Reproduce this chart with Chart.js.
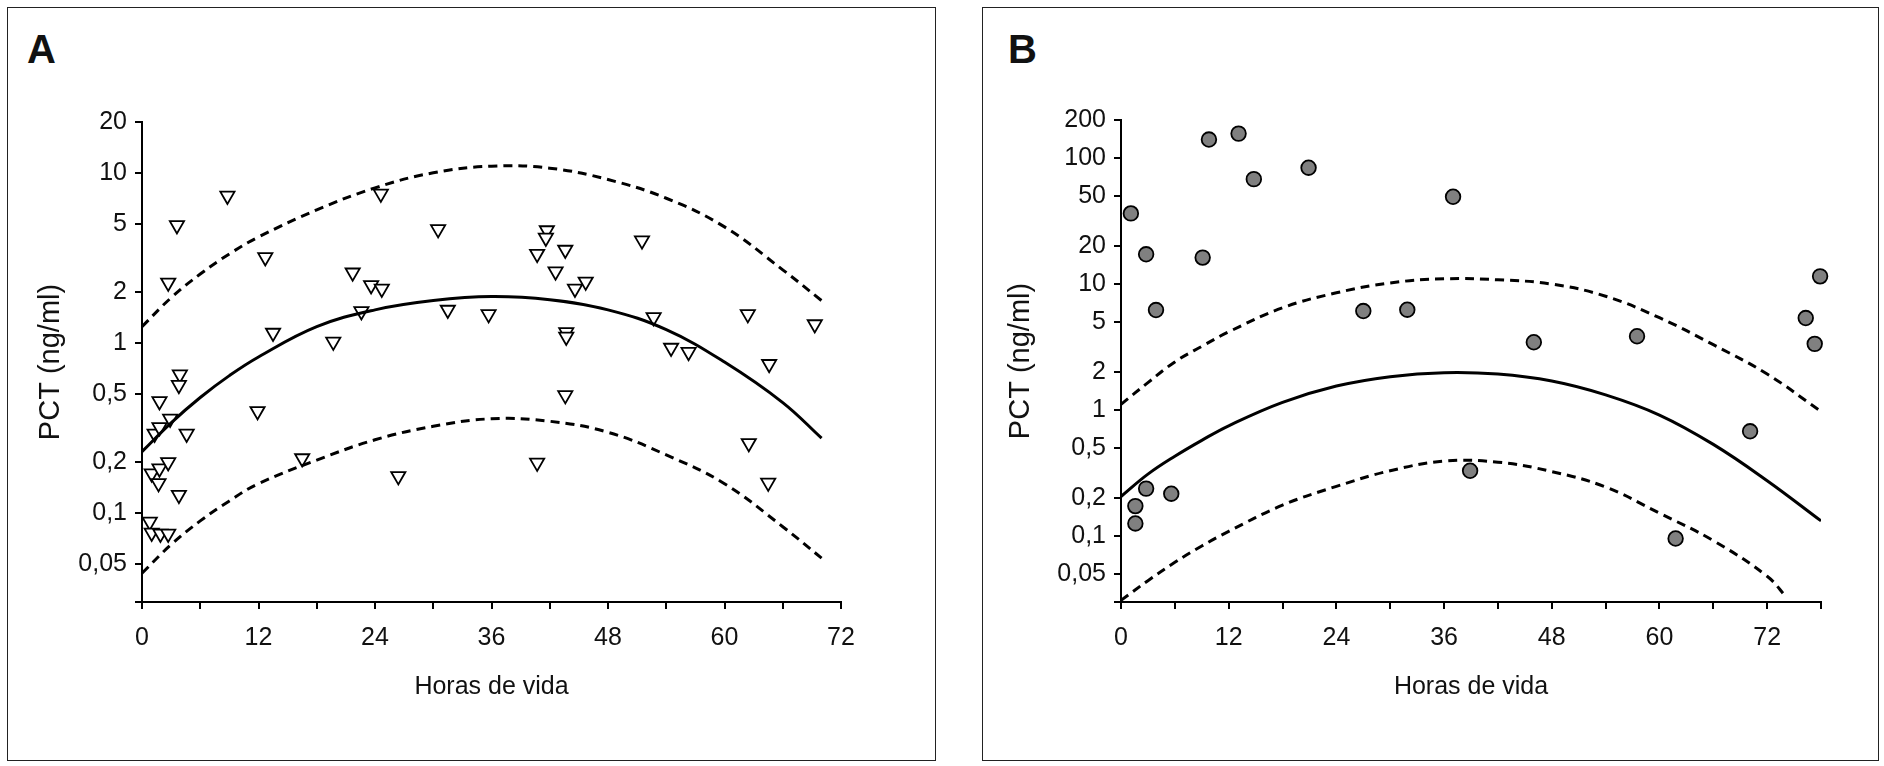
<!DOCTYPE html>
<html>
<head>
<meta charset="utf-8">
<script src="https://cdn.jsdelivr.net/npm/chart.js@4"></script>
<style>
  body { margin: 0; background: #fff; width: 1884px; height: 766px; position: relative; overflow: hidden; }
  .marco { position: absolute; border: 1.5px solid #222; box-sizing: border-box; }
  .letra { position: absolute; font: bold 40px "Liberation Sans", Arial, sans-serif; color: #111; }
  canvas { position: absolute; }
</style>
</head>
<body>
<div class="marco" style="left:7px;top:7px;width:929px;height:754px"></div>
<div class="marco" style="left:982px;top:7px;width:897px;height:754px"></div>
<div class="letra" style="left:27px;top:27px">A</div>
<div class="letra" style="left:1008px;top:27px">B</div>
<canvas id="chartA" width="926" height="751" style="left:8px;top:8px"></canvas>
<canvas id="chartB" width="894" height="751" style="left:983px;top:8px"></canvas>
<script>
// Panel A - triangulos
let horasA = [8.8, 3.6, 2.7, 12.7, 13.5, 3.9, 3.8, 1.8, 1.3, 1.8, 2.9, 4.6, 11.9, 19.7, 21.7, 22.6, 23.6, 24.7, 24.6, 30.5, 31.5, 35.7,
  16.5, 26.4, 1.0, 1.8, 2.7, 1.7, 3.8, 0.8, 1.0, 1.9, 2.7,
  41.7, 41.6, 40.7, 43.6, 42.6, 44.6, 45.7, 43.7, 43.7, 43.6, 40.7, 51.5, 52.7, 54.5, 56.3, 62.4, 64.6, 69.3, 62.5, 64.5];
let pctA = [7.36, 4.94, 2.27, 3.2, 1.15, 0.654, 0.567, 0.455, 0.293, 0.32, 0.359, 0.293, 0.398, 1.02, 2.6, 1.54, 2.19, 2.09, 7.57, 4.68, 1.57, 1.48,
  0.21, 0.165, 0.171, 0.183, 0.199, 0.15, 0.128, 0.089, 0.0766, 0.0756, 0.0756,
  4.61, 4.17, 3.35, 3.54, 2.64, 2.09, 2.3, 1.16, 1.09, 0.494, 0.198, 4.02, 1.42, 0.938, 0.887, 1.48, 0.753, 1.29, 0.258, 0.151];
let horasCurvaA = [0, 3, 6, 9, 12, 18, 24, 30, 36, 42, 48, 54, 60, 66, 70];
let mediaA = [0.23, 0.34, 0.479, 0.644, 0.829, 1.25, 1.57, 1.78, 1.88, 1.8, 1.57, 1.2, 0.774, 0.447, 0.276];
let superiorA = [1.25, 1.85, 2.55, 3.35, 4.21, 6.08, 8.19, 10.05, 11.0, 10.7, 9.17, 7.12, 4.83, 2.7, 1.78];
let inferiorA = [0.0443, 0.0653, 0.09, 0.118, 0.149, 0.205, 0.27, 0.324, 0.359, 0.347, 0.299, 0.22, 0.149, 0.0832, 0.0544];
let ticksYA = [0.03, 0.05, 0.1, 0.2, 0.5, 1, 2, 5, 10, 20];
let etiquetasYA = ['', '0,05', '0,1', '0,2', '0,5', '1', '2', '5', '10', '20'];

// Panel B - circulos
let horasB = [1.1, 2.8, 3.9, 9.8, 13.1, 14.8, 20.9, 9.1, 27.0, 31.9, 37.0, 38.9, 2.8, 5.6, 1.6, 1.6, 46.0, 57.5, 70.1, 61.8, 76.3, 77.3, 77.9];
let pctB = [36.3, 17.2, 6.21, 140, 156, 67.9, 83.7, 16.2, 6.1, 6.25, 49.2, 0.33, 0.238, 0.217, 0.173, 0.126, 3.45, 3.85, 0.678, 0.0957, 5.37, 3.35, 11.5];
let horasMediaB = [0, 3, 6, 9, 12, 18, 24, 30, 36, 42, 48, 54, 60, 66, 72, 78];
let mediaB = [0.206, 0.31, 0.43, 0.575, 0.75, 1.15, 1.55, 1.84, 1.98, 1.93, 1.7, 1.32, 0.913, 0.534, 0.275, 0.132];
let horasSupB = [0, 3, 6, 9, 12, 18, 24, 30, 36, 42, 48, 54, 60, 66, 72, 77.7];
let superiorB = [1.11, 1.65, 2.41, 3.2, 4.17, 6.48, 8.51, 10.2, 11.0, 10.8, 9.98, 8.0, 5.4, 3.3, 1.93, 1.01];
let horasInfB = [0, 3, 6, 9, 12, 18, 24, 30, 36, 42, 48, 54, 60, 66, 72, 74.2];
let inferiorB = [0.0309, 0.0443, 0.0619, 0.0834, 0.109, 0.176, 0.248, 0.33, 0.393, 0.386, 0.325, 0.245, 0.152, 0.092, 0.048, 0.0324];
let ticksYB = [0.03, 0.05, 0.1, 0.2, 0.5, 1, 2, 5, 10, 20, 50, 100, 200];
let etiquetasYB = ['', '0,05', '0,1', '0,2', '0,5', '1', '2', '5', '10', '20', '50', '100', '200'];

Chart.defaults.font.family = '"Liberation Sans", Arial, sans-serif';
Chart.defaults.color = '#111';

function puntos(xs, ys) {
  return xs.map((x, i) => ({ x: x, y: ys[i] }));
}

function curva(xs, ys, dash) {
  return {
    data: puntos(xs, ys),
    showLine: true,
    pointRadius: 0,
    borderColor: '#000',
    borderWidth: 3,
    borderDash: dash,
    tension: 0.4,
    fill: false
  };
}

function grafico(id, marcas, curvas, xMax, ticksY, etiquetasY, yMax, p) {
  new Chart(document.getElementById(id), {
    type: 'scatter',
    data: { datasets: curvas.concat([marcas]) },
    options: {
      responsive: false,
      animation: false,
      devicePixelRatio: 1,
      layout: { padding: { left: 0, top: p.top, right: p.right, bottom: 0 } },
      plugins: { legend: { display: false }, tooltip: { enabled: false } },
      scales: {
        x: {
          type: 'linear', min: 0, max: xMax,
          border: { color: '#000', width: 2 },
          grid: { drawOnChartArea: false, color: '#000', lineWidth: 2, tickLength: 7 },
          ticks: {
            stepSize: 6, autoSkip: false, maxRotation: 0, padding: 14,
            font: { size: 25 },
            callback: v => (v % 12 === 0 ? String(v) : '')
          },
          title: { display: true, text: 'Horas de vida', font: { size: 25 }, padding: { top: 0, bottom: 57 } },
          afterFit: s => { s.height = p.xh; }
        },
        y: {
          type: 'logarithmic', min: 0.03, max: yMax,
          border: { color: '#000', width: 2 },
          grid: { drawOnChartArea: false, color: '#000', lineWidth: 2, tickLength: 7 },
          afterBuildTicks: s => { s.ticks = ticksY.map(v => ({ value: v })); },
          ticks: {
            autoSkip: false, padding: 8,
            font: { size: 25 },
            callback: (v, i) => etiquetasY[i]
          },
          title: { display: true, text: 'PCT (ng/ml)', font: { size: 29 }, padding: { top: p.tt, bottom: 0 } },
          afterFit: s => { s.width = p.yw; }
        }
      }
    }
  });
}

grafico('chartA',
  {
    data: puntos(horasA, pctA),
    pointStyle: 'triangle', pointRotation: 180, pointRadius: 8.2,
    backgroundColor: '#fff', borderColor: '#000', borderWidth: 1.8, clip: false
  },
  [curva(horasCurvaA, mediaA, []), curva(horasCurvaA, superiorA, [9, 6]), curva(horasCurvaA, inferiorA, [9, 6])],
  72, ticksYA, etiquetasYA, 20,
  { top: 114, right: 93, xh: 157, yw: 134, tt: 26 });

grafico('chartB',
  {
    data: puntos(horasB, pctB),
    pointStyle: 'circle', pointRadius: 7.3,
    backgroundColor: '#808080', borderColor: '#000', borderWidth: 1.8, clip: false
  },
  [curva(horasMediaB, mediaB, []), curva(horasSupB, superiorB, [9, 6]), curva(horasInfB, inferiorB, [9, 6])],
  78, ticksYB, etiquetasYB, 200,
  { top: 112, right: 56, xh: 157, yw: 138, tt: 21 });
</script>
</body>
</html>
